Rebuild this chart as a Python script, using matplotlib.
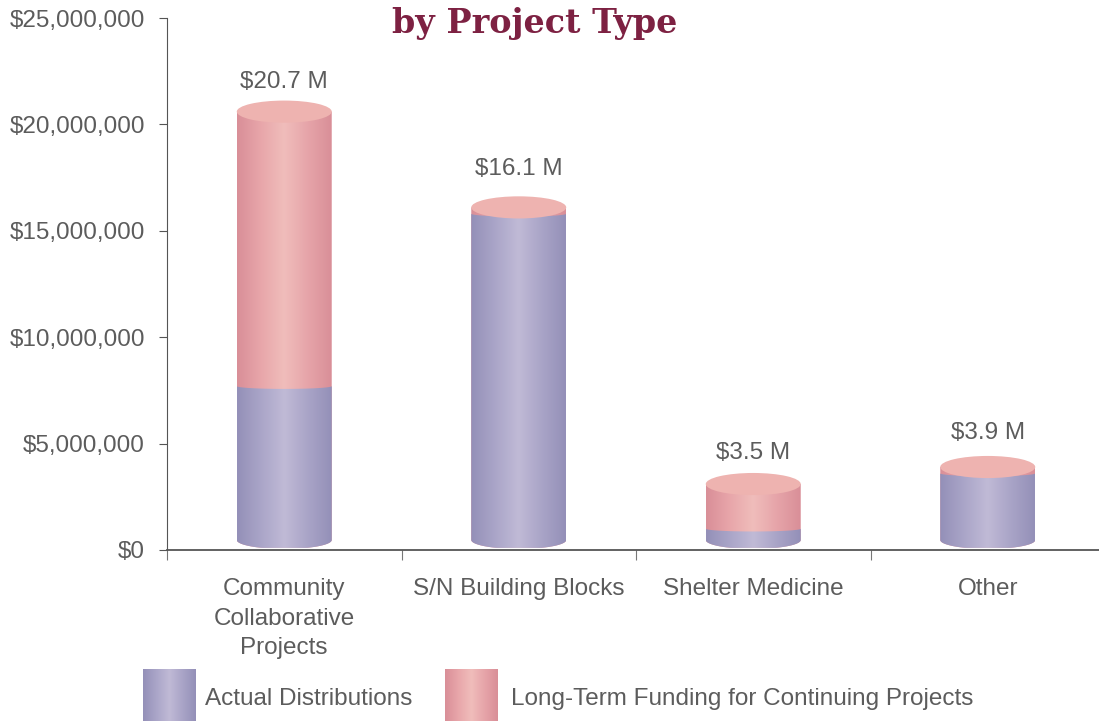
import matplotlib
matplotlib.use('Agg')
import matplotlib.pyplot as plt
import numpy as np
from matplotlib.colors import LinearSegmentedColormap
from matplotlib.path import Path
from matplotlib.patches import PathPatch, Ellipse
from matplotlib.ticker import FuncFormatter

categories = ['Community\nCollaborative\nProjects', 'S/N Building Blocks', 'Shelter Medicine', 'Other']
actual = [7700000, 15800000, 1000000, 3600000]
long_term = [12900000, 300000, 2100000, 300000]
bar_labels = ['$20.7 M', '$16.1 M', '$3.5 M', '$3.9 M']
legend_names = ['Actual Distributions', 'Long-Term Funding for Continuing Projects']

label_off = [21.3, 27.3, 22.7, 24.8]

plt.rcParams['font.family'] = ['Liberation Sans', 'DejaVu Sans']
TXT = '#5c5c5c'
FS = 17.5
purple = LinearSegmentedColormap.from_list('p', ['#9490b8', '#aaa5c8', '#c0bad6', '#a9a4c7', '#9490b8'])
pink = LinearSegmentedColormap.from_list('r', ['#d98f98', '#e8a6aa', '#f0bdbb', '#e6a4a9', '#d98f98'])
grad = np.linspace(0, 1, 200).reshape(1, -1)

W, H = 1099, 721
fig = plt.figure(figsize=(W / 100, H / 100), dpi=100)
ax = fig.add_axes([167 / W, (H - 550) / H, (W - 167) / W, 532 / H])

bw = 0.405
hh = 420000
cap_hh = 520000
base = 100000
t = np.linspace(0, np.pi, 60)


def body(cx, top, arc):
    # side walls with a rounded foot, flat where it meets the axis
    xb = cx - bw / 2 * np.cos(t)
    yb = np.maximum(base + 370000 - hh * np.sin(t), base)
    xt = cx + bw / 2 * np.cos(t)
    yt = top + arc * np.sin(t) * -1
    return Path(np.vstack([np.column_stack([xb, yb]), np.column_stack([xt, yt]), [xb[0], yb[0]]]))


for i in range(len(categories)):
    cx = i + 0.5
    total = actual[i] + long_term[i]
    ext = [cx - bw / 2, cx + bw / 2, 0, 25000000]
    for top, cm, arc in [(total, pink, 0), (actual[i], purple, 130000)]:
        im = ax.imshow(grad, cmap=cm, extent=ext, aspect='auto', zorder=2)
        clip = PathPatch(body(cx, top, arc), transform=ax.transData)
        im.set_clip_path(clip)
    ax.add_patch(Ellipse((cx, total), bw, 2 * cap_hh, fc='#eeb3b0', ec='none', zorder=3))
    ax.annotate(bar_labels[i], (cx, total), xytext=(0, label_off[i]), textcoords='offset points',
                ha='center', va='center', fontsize=FS, color=TXT)

ax.set_xlim(0, (W - 167) / 234.5)
ax.set_ylim(0, 25000000)
ax.set_yticks(range(0, 25000001, 5000000))
ax.yaxis.set_major_formatter(FuncFormatter(lambda v, p: '${:,.0f}'.format(v)))
ax.set_xticks([0, 1, 2, 3])
ax.set_xticklabels([])
ax.set_xticks([0.5, 1.5, 2.5, 3.5], minor=True)
ax.set_xticklabels(categories, minor=True, linespacing=1.42)
ax.tick_params(axis='x', which='minor', length=0, pad=20.5, labelsize=FS, labelcolor=TXT)
ax.tick_params(axis='x', which='major', length=7, color='#777777')
ax.tick_params(axis='y', length=6, color='#555555', labelsize=FS, labelcolor=TXT, pad=10)
ax.spines['top'].set_visible(False)
ax.spines['right'].set_visible(False)
ax.spines['left'].set_color('#555555')
ax.spines['bottom'].set_color('#555555')
ax.spines['bottom'].set_linewidth(1.3)
ax.patch.set_alpha(0)

fig.text(535 / W, 1 - 24 / H, 'by Project Type', family='DejaVu Serif', weight='bold',
         fontsize=24, color='#7d2142', ha='center', va='center')

# legend swatches run off the bottom of the page in the original
for x0, cm, name, tx in [(143, purple, legend_names[0], 205), (445, pink, legend_names[1], 511)]:
    sw = fig.add_axes([x0 / W, 0, 53 / W, 52 / H])
    sw.imshow(grad, cmap=cm, aspect='auto')
    sw.axis('off')
    fig.text(tx / W, 1 - 699 / H, name, fontsize=FS, color=TXT, va='center')

fig.savefig('out.png', dpi=100)
